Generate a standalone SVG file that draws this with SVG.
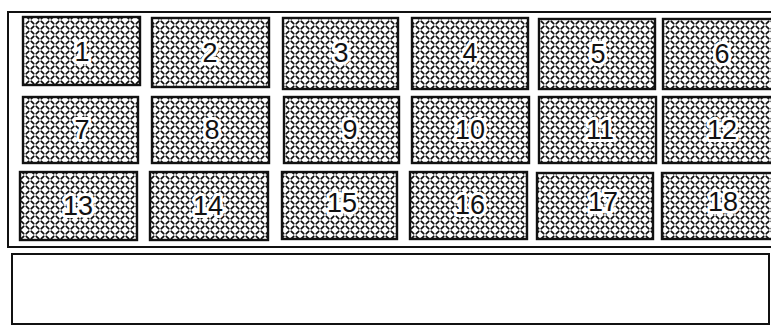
<svg xmlns="http://www.w3.org/2000/svg" width="771" height="326" viewBox="0 0 771 326">
<defs>
<pattern id="tread" patternUnits="userSpaceOnUse" width="10" height="10">
<rect width="10" height="10" fill="#fff"/>
<path d="M1.3,1.3 L3.7,3.7 M6.3,6.3 L8.7,8.7 M8.7,1.3 L6.3,3.7 M3.7,6.3 L1.3,8.7" stroke="#111" stroke-width="1.8" stroke-linecap="round"/>
</pattern>
</defs>
<style>
.frame{fill:none;stroke:#111;stroke-width:2}
.cell rect{fill:url(#tread);stroke:#111;stroke-width:2.4}
.cell text{font-family:"Liberation Sans",Arial,sans-serif;font-size:27px;fill:#111;text-anchor:middle;dominant-baseline:central;stroke:#fff;stroke-width:6;paint-order:stroke;stroke-linejoin:round}
</style>
<rect width="771" height="326" fill="#fff"/>
<g id="frames">
<path class="frame" d="M775,12 L8,12 L8,247 L775,247"/>
<rect class="frame" x="12" y="254" width="757" height="70"/>
</g>
<g id="c1" class="cell"><rect x="23" y="17" width="117" height="68"/><text x="82" y="52">1</text></g>
<g id="c2" class="cell"><rect x="152" y="18" width="117" height="69"/><text x="210" y="53">2</text></g>
<g id="c3" class="cell"><rect x="283" y="18" width="115" height="71"/><text x="341" y="53">3</text></g>
<g id="c4" class="cell"><rect x="412" y="18" width="116" height="71"/><text x="470" y="53">4</text></g>
<g id="c5" class="cell"><rect x="539" y="19" width="116" height="70"/><text x="598" y="54">5</text></g>
<g id="c6" class="cell"><rect x="663" y="19" width="118" height="70"/><text x="722" y="54">6</text></g>
<g id="c7" class="cell"><rect x="23" y="97" width="115" height="66"/><text x="82" y="130">7</text></g>
<g id="c8" class="cell"><rect x="152" y="97" width="117" height="66"/><text x="212" y="130">8</text></g>
<g id="c9" class="cell"><rect x="284" y="97" width="115" height="66"/><text x="350" y="130">9</text></g>
<g id="c10" class="cell"><rect x="412" y="97" width="117" height="66"/><text x="470" y="130">10</text></g>
<g id="c11" class="cell"><rect x="539" y="97" width="117" height="66"/><text x="600" y="130">11</text></g>
<g id="c12" class="cell"><rect x="663" y="97" width="118" height="66"/><text x="722" y="130">12</text></g>
<g id="c13" class="cell"><rect x="20" y="172" width="117" height="68"/><text x="78" y="206">13</text></g>
<g id="c14" class="cell"><rect x="150" y="172" width="118" height="68"/><text x="208" y="206">14</text></g>
<g id="c15" class="cell"><rect x="282" y="172" width="115" height="67"/><text x="342" y="203">15</text></g>
<g id="c16" class="cell"><rect x="410" y="172" width="117" height="67"/><text x="470" y="205">16</text></g>
<g id="c17" class="cell"><rect x="537" y="173" width="116" height="66"/><text x="603" y="202">17</text></g>
<g id="c18" class="cell"><rect x="662" y="173" width="119" height="66"/><text x="723" y="202">18</text></g>
</svg>
